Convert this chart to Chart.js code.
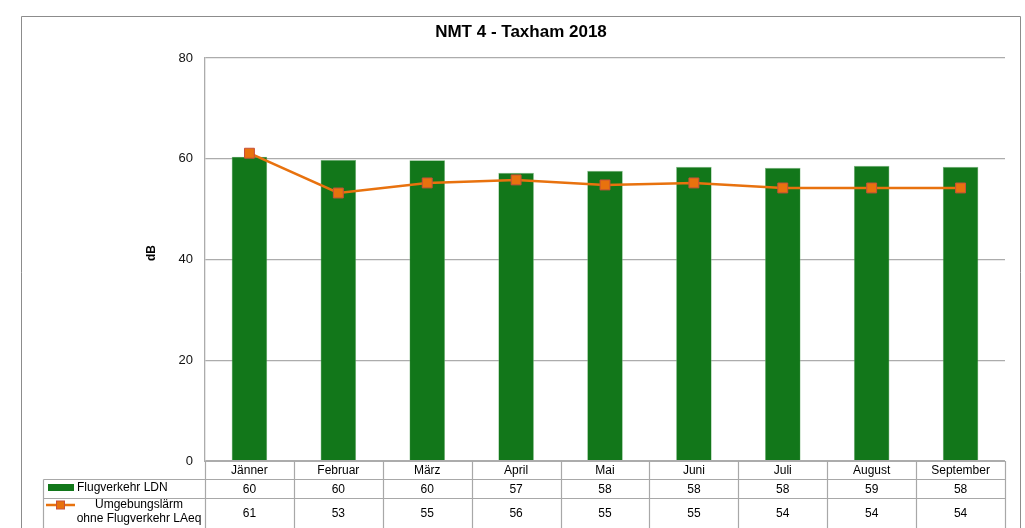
<!DOCTYPE html>
<html>
<head>
<meta charset="utf-8">
<script src="https://cdn.jsdelivr.net/npm/chart.js@4/dist/chart.umd.min.js"></script>
<style>
html,body{margin:0;padding:0;background:#fff;}
#wrap{width:1025px;height:528px;position:relative;}
</style>
</head>
<body>
<div id="wrap"><canvas id="c" width="1025" height="528"></canvas></div>
<script>
const categories = ['Jänner','Februar','März','April','Mai','Juni','Juli','August','September'];
const flugverkehrLDN = [60.4, 59.75, 59.7, 57.2, 57.6, 58.4, 58.2, 58.6, 58.4];
const umgebungslaerm = [61.1, 53.2, 55.2, 55.8, 54.8, 55.2, 54.2, 54.2, 54.2];
const yTicks = [0, 20, 40, 60, 80];
const chartTitle = 'NMT 4 - Taxham 2018';
const yTitle = 'dB';
const seriesNames = ['Flugverkehr LDN', ['Umgebungslärm', 'ohne Flugverkehr LAeq']];

const GREEN = '#12771a';
const ORANGE = '#e8720e';
const MARKER_BORDER = '#c8503a';
const GRID = '#acacac';
const FONT = '"Liberation Sans", Arial, sans-serif';

const tablePlugin = {
  id: 'tablePlugin',
  afterDraw(chart) {
    const ctx = chart.ctx;
    const ca = chart.chartArea;
    const x = chart.scales.x;
    const n = categories.length;
    const catW = (ca.right - ca.left) / n;
    const r0 = ca.bottom, r1 = r0 + 18, r2 = r1 + 18.5, r3 = 540;
    const legL = 43.5;
    ctx.save();
    // outer border
    ctx.strokeStyle = '#8c8c8c';
    ctx.lineWidth = 1;
    ctx.beginPath();
    ctx.moveTo(21.5, 540); ctx.lineTo(21.5, 16.5); ctx.lineTo(1020.5, 16.5); ctx.lineTo(1020.5, 540);
    ctx.stroke();
    // title
    ctx.fillStyle = '#000';
    ctx.font = 'bold 17px ' + FONT;
    ctx.textAlign = 'center';
    ctx.textBaseline = 'middle';
    ctx.fillText(chartTitle, 521, 32);
    // y title
    ctx.save();
    ctx.translate(152, 253);
    ctx.rotate(-Math.PI / 2);
    ctx.font = 'bold 12px ' + FONT;
    ctx.fillText(yTitle, 0, 0);
    ctx.restore();
    // table lines
    ctx.strokeStyle = '#a8a8a8';
    ctx.lineWidth = 1.2;
    ctx.beginPath();
    ctx.moveTo(legL, Math.round(r1) + 0.5); ctx.lineTo(ca.right, Math.round(r1) + 0.5);
    ctx.moveTo(legL, Math.round(r2) + 0.5); ctx.lineTo(ca.right, Math.round(r2) + 0.5);
    ctx.moveTo(legL, Math.round(r1) + 0.5); ctx.lineTo(legL, r3);
    for (let i = 0; i <= n; i++) {
      const xx = Math.round(ca.left + i * catW) + 0.5;
      ctx.moveTo(xx, r0); ctx.lineTo(xx, r3);
    }
    ctx.stroke();
    // text
    ctx.fillStyle = '#000';
    ctx.font = '12px ' + FONT;
    ctx.textAlign = 'center';
    for (let i = 0; i < n; i++) {
      const cx = x.getPixelForValue(i);
      ctx.fillText(categories[i], cx, (r0 + r1) / 2 + 1);
      ctx.fillText(String(Math.round(flugverkehrLDN[i])), cx, (r1 + r2) / 2 + 1);
      ctx.fillText(String(Math.round(umgebungslaerm[i])), cx, (r2 + 528) / 2 + 1);
    }
    // legend keys
    ctx.fillStyle = GREEN;
    ctx.fillRect(48, 484, 26, 7);
    ctx.fillStyle = '#000';
    ctx.textAlign = 'left';
    ctx.fillText(seriesNames[0], 77, 488);
    ctx.strokeStyle = ORANGE;
    ctx.lineWidth = 2.5;
    ctx.beginPath(); ctx.moveTo(46, 505); ctx.lineTo(75, 505); ctx.stroke();
    ctx.fillStyle = ORANGE;
    ctx.fillRect(56.5, 501, 8, 8);
    ctx.strokeStyle = MARKER_BORDER; ctx.lineWidth = 1;
    ctx.strokeRect(56.5, 501, 8, 8);
    ctx.fillStyle = '#000';
    ctx.textAlign = 'center';
    ctx.fillText(seriesNames[1][0], 139, 505);
    ctx.fillText(seriesNames[1][1], 139, 519);
    ctx.restore();
  }
};

new Chart(document.getElementById('c'), {
  data: {
    labels: categories,
    datasets: [
      {
        type: 'line',
        label: 'Umgebungslärm ohne Flugverkehr LAeq',
        data: umgebungslaerm,
        borderColor: ORANGE,
        borderWidth: 2.5,
        pointStyle: 'rect',
        pointRadius: 7,
        pointBackgroundColor: ORANGE,
        pointBorderColor: MARKER_BORDER,
        pointBorderWidth: 1,
        tension: 0,
        order: 0
      },
      {
        type: 'bar',
        label: 'Flugverkehr LDN',
        data: flugverkehrLDN,
        backgroundColor: GREEN,
        borderColor: '#7fb982',
        borderWidth: 0.6,
        barPercentage: 0.4,
        categoryPercentage: 1,
        order: 1
      }
    ]
  },
  options: {
    responsive: false,
    animation: false,
    layout: { padding: { left: 100, right: 20, top: 58, bottom: 67 } },
    plugins: { legend: { display: false }, title: { display: false }, tooltip: { enabled: false } },
    scales: {
      x: { display: false, offset: true },
      y: {
        min: 0, max: 80,
        afterBuildTicks(scale) { scale.ticks = yTicks.map(v => ({ value: v })); },
        afterFit(scale) { scale.width = 105; },
        ticks: { color: '#111', font: { size: 13, family: FONT }, padding: 12 },
        grid: { color: GRID, lineWidth: (c) => c.tick && c.tick.value === 0 ? 2 : 1.3, drawTicks: false },
        border: { display: true, color: GRID, width: 1.3 }
      }
    }
  },
  plugins: [tablePlugin]
});
</script>
</body>
</html>
